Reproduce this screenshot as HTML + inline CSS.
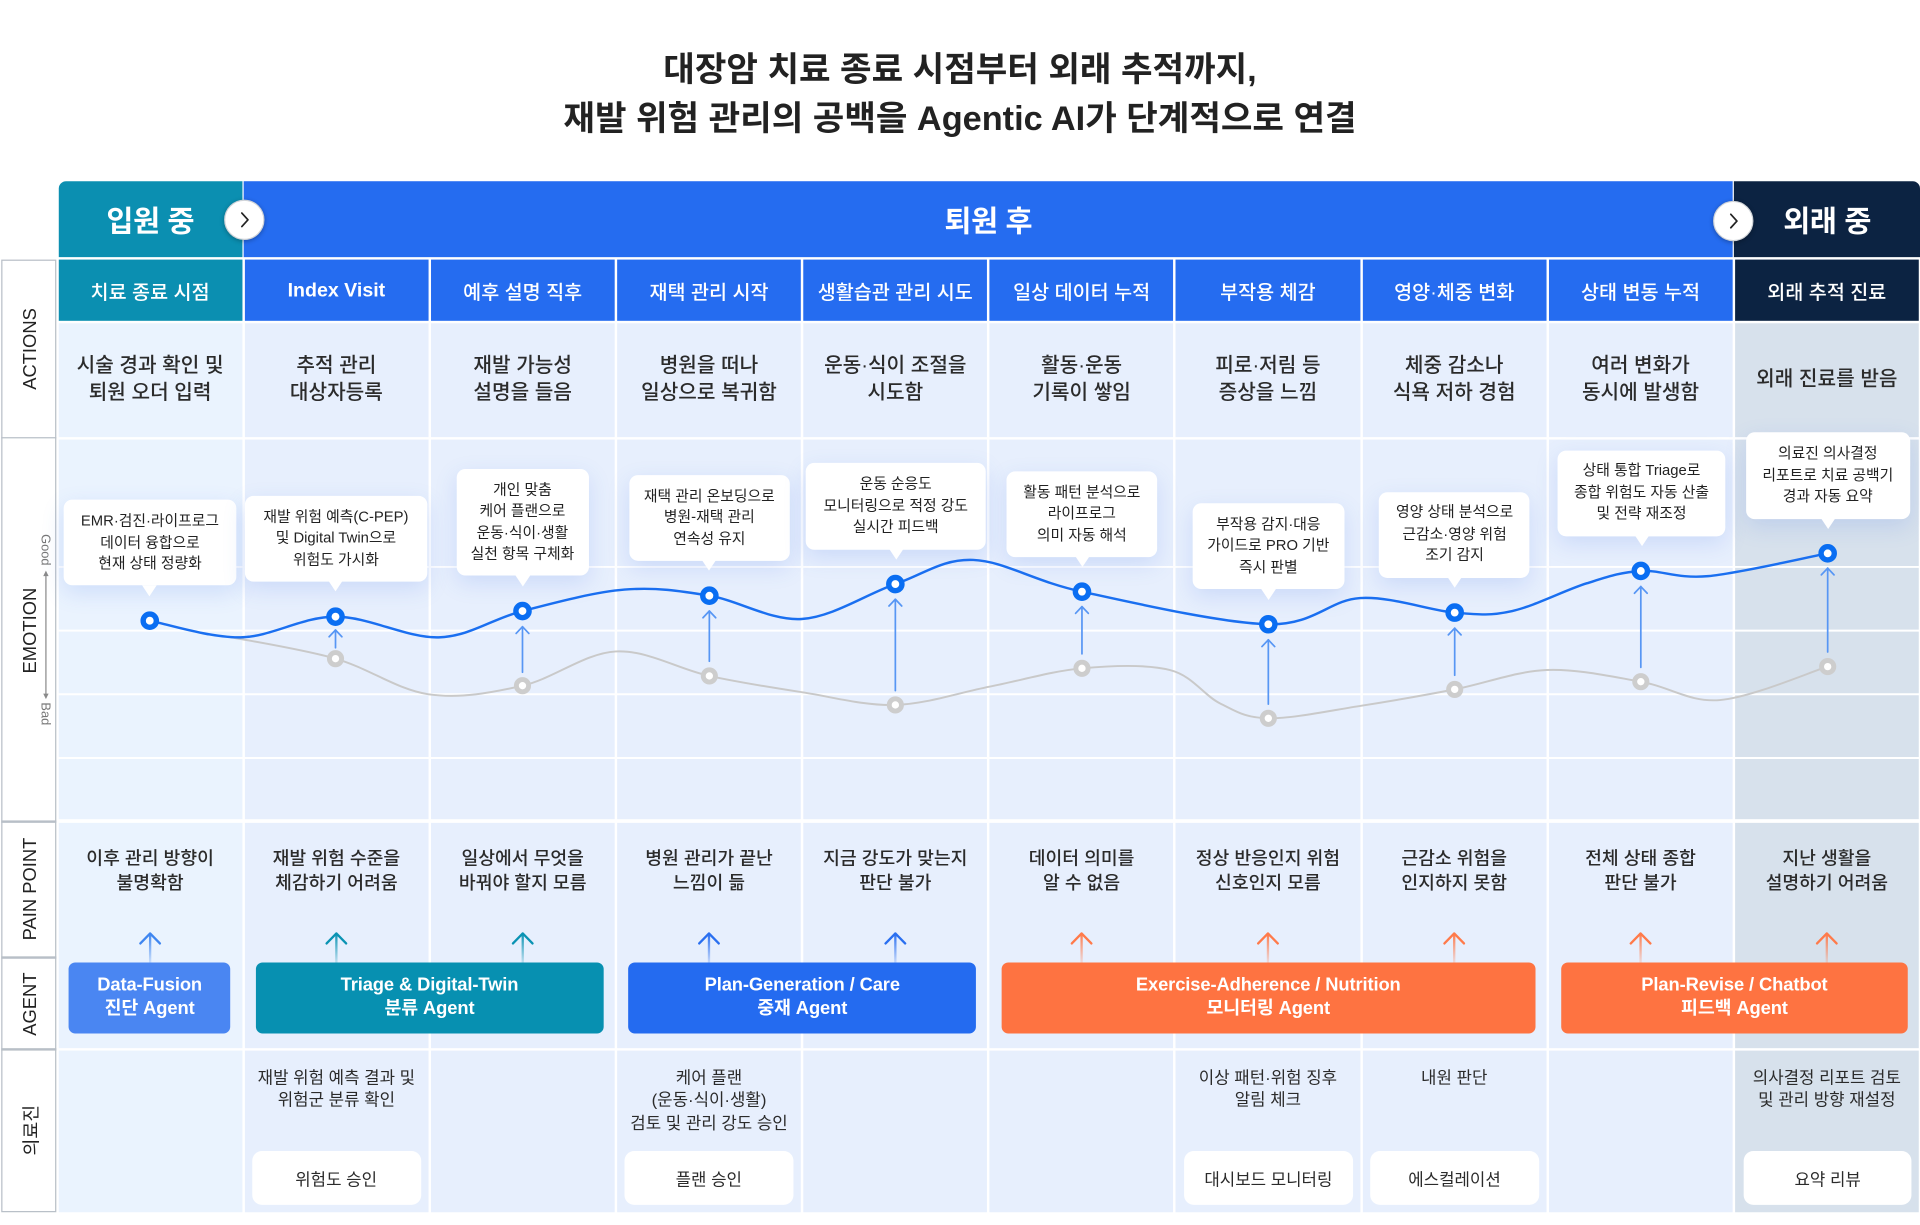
<!DOCTYPE html>
<html><head><meta charset="utf-8">
<style>
html,body{margin:0;padding:0;background:#fff;}
body{width:1920px;height:1224px;overflow:hidden;position:relative;font-family:"Liberation Sans","Noto Sans CJK KR",sans-serif;}
#c{position:absolute;left:0;top:0;width:1568px;height:1000px;transform:scale(1.2244898);transform-origin:0 0;}
.a{position:absolute;}
.title{position:absolute;left:0;width:1568px;text-align:center;font-size:28px;font-weight:700;color:#222;line-height:34px;white-space:nowrap;}
.row{position:absolute;left:47.5px;width:1519.5px;display:grid;grid-template-columns:repeat(10,1fr);column-gap:2px;}
.row>div{display:flex;align-items:center;justify-content:center;text-align:center;white-space:nowrap;}
.hdr>div{background:#256cf0;color:#fff;font-size:16px;font-weight:500;}
.hdr>div:first-child{background:#0b8fb1;}
.hdr>div:last-child{background:#0c2342;}
.bg>div{background:#e7effd;}
.bg>div:first-child{background:#eaf3fe;}
.bg>div:last-child{background:#d7e1ec;}
.act>div{font-size:16.5px;line-height:21.8px;color:#2b2b2b;font-weight:500;}
.pain>div{align-items:flex-start;padding-top:20.2px;box-sizing:border-box;font-size:14.9px;line-height:20.2px;color:#2b2b2b;font-weight:500;}
.med>div{align-items:flex-start;padding-top:14.2px;box-sizing:border-box;font-size:13.7px;line-height:18.3px;color:#2b2b2b;}
.phase{position:absolute;top:147.5px;height:62px;color:#fff;font-size:24px;font-weight:600;display:flex;align-items:center;justify-content:center;white-space:nowrap;letter-spacing:-0.3px;}
.btn{position:absolute;width:33px;height:33px;border-radius:50%;background:#fff;border:1px solid #cfd3d8;box-sizing:border-box;box-shadow:0 1px 4px rgba(0,0,0,.3);z-index:3;}
.lab{position:absolute;transform:translate(-50%,-50%) rotate(-90deg);font-size:15px;color:#222;white-space:nowrap;}
.gb{position:absolute;transform:translate(-50%,-50%) rotate(90deg);font-size:10.5px;color:#777;white-space:nowrap;}
.hl{position:absolute;left:1px;width:45.3px;height:1.6px;background:#b8bfc7;}
.bub{position:absolute;background:#fff;border-radius:7px;box-shadow:0 6px 18px rgba(70,120,230,.17);display:flex;align-items:center;justify-content:center;text-align:center;font-size:12.1px;line-height:17.4px;color:#222;white-space:nowrap;z-index:4;}
.bub::after{content:"";position:absolute;left:50%;bottom:-8.5px;margin-left:-6px;border-left:6px solid transparent;border-right:6px solid transparent;border-top:9px solid #fff;}
.ag{position:absolute;top:786.2px;height:57.7px;border-radius:5.5px;color:#fff;font-size:15px;font-weight:700;line-height:18.8px;display:flex;align-items:center;justify-content:center;text-align:center;white-space:nowrap;z-index:4;letter-spacing:-0.1px;}
.wb{position:absolute;top:940px;height:43.5px;background:#fff;border-radius:8px;display:flex;align-items:center;justify-content:center;font-size:13.7px;color:#2b2b2b;white-space:nowrap;z-index:4;}
svg.ov{position:absolute;left:0;top:0;z-index:2;}
.lat{font-weight:700;position:relative;top:1px;font-size:16px;}
</style></head>
<body>
<div id="c">

<div class="title" style="top:40px">대장암 치료 종료 시점부터 외래 추적까지,</div>
<div class="title" style="top:80px">재발 위험 관리의 공백을 Agentic AI가 단계적으로 연결</div>

<!-- phase band -->
<div class="phase" style="left:47.5px;width:150.5px;background:#0b8fb1;border-top-left-radius:6px;">입원 중</div>
<div class="phase" style="left:199px;width:1216.3px;background:#256cf0;">퇴원 후</div>
<div class="phase" style="left:1416.3px;width:151.7px;background:#0c2342;border-top-right-radius:6px;">외래 중</div>
<div class="btn" style="left:182.5px;top:163px;"><svg width="31" height="31" viewBox="0 0 31 31"><polyline points="13.5,10 18.5,15.5 13.5,21" fill="none" stroke="#222" stroke-width="1.4" stroke-linecap="round" stroke-linejoin="round"/></svg></div>
<div class="btn" style="left:1399px;top:164px;"><svg width="31" height="31" viewBox="0 0 31 31"><polyline points="13.5,10 18.5,15.5 13.5,21" fill="none" stroke="#222" stroke-width="1.4" stroke-linecap="round" stroke-linejoin="round"/></svg></div>

<!-- column headers -->
<div class="row hdr" style="top:211.5px;height:50.5px;">
<div>치료 종료 시점</div><div><span class="lat">Index Visit</span></div><div>예후 설명 직후</div><div>재택 관리 시작</div><div>생활습관 관리 시도</div><div>일상 데이터 누적</div><div>부작용 체감</div><div>영양·체중 변화</div><div>상태 변동 누적</div><div>외래 추적 진료</div>
</div>

<!-- actions -->
<div class="row bg act" style="top:264px;height:93.3px;">
<div>시술 경과 확인 및<br>퇴원 오더 입력</div>
<div>추적 관리<br>대상자등록</div>
<div>재발 가능성<br>설명을 들음</div>
<div>병원을 떠나<br>일상으로 복귀함</div>
<div>운동·식이 조절을<br>시도함</div>
<div>활동·운동<br>기록이 쌓임</div>
<div>피로·저림 등<br>증상을 느낌</div>
<div>체중 감소나<br>식욕 저하 경험</div>
<div>여러 변화가<br>동시에 발생함</div>
<div>외래 진료를 받음</div>
</div>

<!-- emotion -->
<div class="row bg" style="top:359.3px;height:310.2px;">
<div></div><div></div><div></div><div></div><div></div><div></div><div></div><div></div><div></div><div></div>
</div>

<!-- pain / agent -->
<div class="row bg pain" style="top:671.5px;height:184.5px;">
<div>이후 관리 방향이<br>불명확함</div>
<div>재발 위험 수준을<br>체감하기 어려움</div>
<div>일상에서 무엇을<br>바꿔야 할지 모름</div>
<div>병원 관리가 끝난<br>느낌이 듦</div>
<div>지금 강도가 맞는지<br>판단 불가</div>
<div>데이터 의미를<br>알 수 없음</div>
<div>정상 반응인지 위험<br>신호인지 모름</div>
<div>근감소 위험을<br>인지하지 못함</div>
<div>전체 상태 종합<br>판단 불가</div>
<div>지난 생활을<br>설명하기 어려움</div>
</div>

<!-- medical staff -->
<div class="row bg med" style="top:858px;height:131.5px;">
<div></div>
<div>재발 위험 예측 결과 및<br>위험군 분류 확인</div>
<div></div>
<div>케어 플랜<br>(운동·식이·생활)<br>검토 및 관리 강도 승인</div>
<div></div>
<div></div>
<div>이상 패턴·위험 징후<br>알림 체크</div>
<div>내원 판단</div>
<div></div>
<div>의사결정 리포트 검토<br>및 관리 방향 재설정</div>
</div>

<!-- label column -->
<div class="a" style="left:1px;top:211.5px;width:45.3px;height:778px;border:1.6px solid #b8bfc7;box-sizing:border-box;background:#fff;"></div>
<div class="hl" style="top:356.7px"></div>
<div class="hl" style="top:670px"></div>
<div class="hl" style="top:781.2px"></div>
<div class="hl" style="top:856.4px"></div>
<div class="lab" style="left:24.5px;top:284.5px;">ACTIONS</div>
<div class="lab" style="left:24.5px;top:514.5px;">EMOTION</div>
<div class="lab" style="left:24.5px;top:726px;">PAIN POINT</div>
<div class="lab" style="left:24.5px;top:819.5px;">AGENT</div>
<div class="lab" style="left:24.5px;top:923px;">의료진</div>
<div class="gb" style="left:37px;top:448.5px;">Good</div>
<div class="gb" style="left:37px;top:582.6px;">Bad</div>

<svg class="ov" width="1568" height="1000" viewBox="0 0 1568 1000">
<defs>
<linearGradient id="gB1" gradientUnits="userSpaceOnUse" x1="0" y1="762" x2="0" y2="787"><stop offset="0" stop-color="#3f86f0"/><stop offset="1" stop-color="#3f86f0" stop-opacity="0.15"/></linearGradient>
<linearGradient id="gT" gradientUnits="userSpaceOnUse" x1="0" y1="762" x2="0" y2="787"><stop offset="0" stop-color="#0a93b3"/><stop offset="1" stop-color="#0a93b3" stop-opacity="0.15"/></linearGradient>
<linearGradient id="gB2" gradientUnits="userSpaceOnUse" x1="0" y1="762" x2="0" y2="787"><stop offset="0" stop-color="#2a6ff0"/><stop offset="1" stop-color="#2a6ff0" stop-opacity="0.15"/></linearGradient>
<linearGradient id="gO" gradientUnits="userSpaceOnUse" x1="0" y1="762" x2="0" y2="787"><stop offset="0" stop-color="#ff7a4a"/><stop offset="1" stop-color="#ff7a4a" stop-opacity="0.15"/></linearGradient>
</defs>
<!-- gridlines -->
<g stroke="#ffffff" stroke-width="1.6">
<line x1="47" y1="463" x2="1568" y2="463"/>
<line x1="47" y1="515" x2="1568" y2="515"/>
<line x1="47" y1="567" x2="1568" y2="567"/>
<line x1="47" y1="619" x2="1568" y2="619"/>
</g>
<!-- good/bad arrow -->
<g fill="#8a8a8a" stroke="#8a8a8a">
<line x1="37.5" y1="470" x2="37.5" y2="567" stroke-width="1"/>
<polygon points="37.5,466 35.3,470.5 39.7,470.5" stroke="none"/>
<polygon points="37.5,571 35.3,566.5 39.7,566.5" stroke="none"/>
</g>
<!-- gray curve -->
<path d="M186.7 520 C201.25 522.98 246.78 530.07 274 537.9 C301.22 545.73 324.55 563.32 350 567 C375.45 570.68 401.2 565.83 426.7 560 C452.2 554.17 477.57 533.33 503 532 C528.43 530.67 553.88 546.43 579.3 552 C604.72 557.57 630.18 561.45 655.5 565.4 C680.82 569.35 705.78 576.47 731.2 575.7 C756.62 574.93 782.6 565.78 808 560.8 C833.4 555.82 859.02 548.07 883.6 545.8 C908.18 543.53 936.72 542.43 955.5 547.2 C974.28 551.97 982.92 567.83 996.3 574.4 C1009.68 580.97 1016.52 586.28 1035.8 586.6 C1055.08 586.92 1086.63 580.23 1112 576.3 C1137.37 572.37 1162.83 567.85 1188 563 C1213.17 558.15 1237.67 548.25 1263 547.2 C1288.33 546.15 1316.38 552.62 1340 556.7 C1363.62 560.78 1379.27 573.75 1404.7 571.7 C1430.13 569.65 1477.95 548.95 1492.6 544.4" fill="none" stroke="#c9c9c9" stroke-width="1.6"/>
<!-- blue curve -->
<path d="M122.3 506.9 C134.7 509.17 171.42 521.05 196.7 520.5 C221.98 519.95 247.07 503.6 274 503.6 C300.93 503.6 332.85 521.27 358.3 520.5 C383.75 519.73 401.42 505.5 426.7 499 C451.98 492.5 484.57 483.58 510 481.5 C535.43 479.42 555.18 482.5 579.3 486.5 C603.42 490.5 629.38 507.08 654.7 505.5 C680.02 503.92 707.83 485.03 731.2 477 C754.57 468.97 769.5 456.27 794.9 457.3 C820.3 458.33 843.45 474.45 883.6 483.2 C923.75 491.95 997.95 508.93 1035.8 509.8 C1073.65 510.67 1085.33 489.98 1110.7 488.4 C1136.07 486.82 1167.28 498.53 1188 500.3 C1208.72 502.07 1217.03 502.98 1235 499 C1252.97 495.02 1278.3 481.85 1295.8 476.4 C1313.3 470.95 1323.47 467.28 1340 466.3 C1356.53 465.32 1369.57 472.9 1395 470.5 C1420.43 468.1 1476.33 455 1492.6 451.9" fill="none" stroke="#1a6ff0" stroke-width="2"/>
<!-- emotion arrows -->
<g stroke="#5796f4" stroke-width="1.4" fill="none" stroke-linecap="round" stroke-linejoin="round">
<line x1="274" y1="514.5" x2="274" y2="529"/><polyline points="268.8,520 274,514.5 279.2,520"/>
<line x1="426.7" y1="511.8" x2="426.7" y2="549"/><polyline points="421.5,517.3 426.7,511.8 431.9,517.3"/>
<line x1="579.3" y1="499" x2="579.3" y2="540"/><polyline points="574.1,504.5 579.3,499 584.5,504.5"/>
<line x1="731.2" y1="489.4" x2="731.2" y2="564"/><polyline points="726,494.9 731.2,489.4 736.4,494.9"/>
<line x1="883.6" y1="495.4" x2="883.6" y2="534"/><polyline points="878.4,500.9 883.6,495.4 888.8,500.9"/>
<line x1="1035.8" y1="522.5" x2="1035.8" y2="575"/><polyline points="1030.6,528 1035.8,522.5 1041,528"/>
<line x1="1188" y1="513" x2="1188" y2="551.5"/><polyline points="1182.8,518.5 1188,513 1193.2,518.5"/>
<line x1="1340" y1="479" x2="1340" y2="545"/><polyline points="1334.8,484.5 1340,479 1345.2,484.5"/>
<line x1="1492.6" y1="464" x2="1492.6" y2="532.5"/><polyline points="1487.4,469.5 1492.6,464 1497.8,469.5"/>
</g>
<!-- gray dots -->
<g fill="#fff" stroke="#cdcdcd" stroke-width="4">
<circle cx="274" cy="537.9" r="5"/><circle cx="426.7" cy="560" r="5"/><circle cx="579.3" cy="552" r="5"/><circle cx="731.2" cy="575.7" r="5"/><circle cx="883.6" cy="545.8" r="5"/><circle cx="1035.8" cy="586.6" r="5"/><circle cx="1188" cy="563" r="5"/><circle cx="1340" cy="556.7" r="5"/><circle cx="1492.6" cy="544.4" r="5"/>
</g>
<!-- blue dots -->
<g fill="#fff" stroke="#0a6ef2" stroke-width="4.4">
<circle cx="122.3" cy="506.9" r="5.4"/><circle cx="274" cy="503.6" r="5.4"/><circle cx="426.7" cy="499" r="5.4"/><circle cx="579.3" cy="486.5" r="5.4"/><circle cx="731.2" cy="477" r="5.4"/><circle cx="883.6" cy="483.2" r="5.4"/><circle cx="1035.8" cy="509.8" r="5.4"/><circle cx="1188" cy="500.3" r="5.4"/><circle cx="1340" cy="466.3" r="5.4"/><circle cx="1492.6" cy="451.9" r="5.4"/>
</g>
<!-- pain arrows -->
<g fill="none" stroke-width="1.9" stroke-linecap="round" stroke-linejoin="round">
<g stroke="url(#gB1)"><line x1="122.6" y1="762.5" x2="122.6" y2="786"/></g>
<polyline points="114.6,770.5 122.6,762.3 130.6,770.5" stroke="#3f86f0"/>
<g stroke="url(#gT)"><line x1="274.7" y1="762.5" x2="274.7" y2="786"/><line x1="426.9" y1="762.5" x2="426.9" y2="786"/></g>
<polyline points="266.7,770.5 274.7,762.3 282.7,770.5" stroke="#0a93b3"/>
<polyline points="418.9,770.5 426.9,762.3 434.9,770.5" stroke="#0a93b3"/>
<g stroke="url(#gB2)"><line x1="579" y1="762.5" x2="579" y2="786"/><line x1="731.2" y1="762.5" x2="731.2" y2="786"/></g>
<polyline points="571,770.5 579,762.3 587,770.5" stroke="#2a6ff0"/>
<polyline points="723.2,770.5 731.2,762.3 739.2,770.5" stroke="#2a6ff0"/>
<g stroke="url(#gO)"><line x1="883.3" y1="762.5" x2="883.3" y2="786"/><line x1="1035.5" y1="762.5" x2="1035.5" y2="786"/><line x1="1187.6" y1="762.5" x2="1187.6" y2="786"/><line x1="1339.8" y1="762.5" x2="1339.8" y2="786"/><line x1="1491.9" y1="762.5" x2="1491.9" y2="786"/></g>
<g stroke="#ff7a4a">
<polyline points="875.3,770.5 883.3,762.3 891.3,770.5"/>
<polyline points="1027.5,770.5 1035.5,762.3 1043.5,770.5"/>
<polyline points="1179.6,770.5 1187.6,762.3 1195.6,770.5"/>
<polyline points="1331.8,770.5 1339.8,762.3 1347.8,770.5"/>
<polyline points="1483.9,770.5 1491.9,762.3 1499.9,770.5"/>
</g>
</g>
</svg>

<!-- bubbles -->
<div class="bub" style="left:52.3px;top:408.4px;width:140.4px;height:69.9px;">EMR·검진·라이프로그<br>데이터 융합으로<br>현재 상태 정량화</div>
<div class="bub" style="left:200px;top:405.1px;width:148.7px;height:69.9px;">재발 위험 예측(C-PEP)<br>및 Digital Twin으로<br>위험도 가시화</div>
<div class="bub" style="left:372.7px;top:383.3px;width:108px;height:86.8px;">개인 맞춤<br>케어 플랜으로<br>운동·식이·생활<br>실천 항목 구체화</div>
<div class="bub" style="left:513.6px;top:387.9px;width:131.4px;height:70px;">재택 관리 온보딩으로<br>병원-재택 관리<br>연속성 유지</div>
<div class="bub" style="left:658px;top:378.4px;width:147px;height:70.2px;">운동 순응도<br>모니터링으로 적정 강도<br>실시간 피드백</div>
<div class="bub" style="left:822px;top:385px;width:123px;height:69.6px;">활동 패턴 분석으로<br>라이프로그<br>의미 자동 해석</div>
<div class="bub" style="left:974px;top:411px;width:123.6px;height:70.3px;">부작용 감지·대응<br>가이드로 PRO 기반<br>즉시 판별</div>
<div class="bub" style="left:1126.4px;top:401.5px;width:123.1px;height:70px;">영양 상태 분석으로<br>근감소·영양 위험<br>조기 감지</div>
<div class="bub" style="left:1271.8px;top:367.5px;width:137.5px;height:70.2px;">상태 통합 Triage로<br>종합 위험도 자동 산출<br>및 전략 재조정</div>
<div class="bub" style="left:1425.6px;top:353.3px;width:134.2px;height:70.3px;">의료진 의사결정<br>리포트로 치료 공백기<br>경과 자동 요약</div>

<!-- agent boxes -->
<div class="ag" style="left:56.3px;width:131.8px;background:#4a86f2;">Data-Fusion<br>진단 Agent</div>
<div class="ag" style="left:208.8px;width:283.9px;background:#0790b1;">Triage &amp; Digital-Twin<br>분류 Agent</div>
<div class="ag" style="left:513.4px;width:283.6px;background:#246bf0;">Plan-Generation / Care<br>중재 Agent</div>
<div class="ag" style="left:817.5px;width:436.5px;background:#fe7341;">Exercise-Adherence / Nutrition<br>모니터링 Agent</div>
<div class="ag" style="left:1274.5px;width:283.9px;background:#fe7341;">Plan-Revise / Chatbot<br>피드백 Agent</div>

<!-- medical white boxes -->
<div class="wb" style="left:205.5px;width:138px;">위험도 승인</div>
<div class="wb" style="left:509.8px;width:138.1px;">플랜 승인</div>
<div class="wb" style="left:967px;width:137.7px;">대시보드 모니터링</div>
<div class="wb" style="left:1118.8px;width:138.1px;">에스컬레이션</div>
<div class="wb" style="left:1423.7px;width:137.8px;">요약 리뷰</div>

</div>
</body></html>
